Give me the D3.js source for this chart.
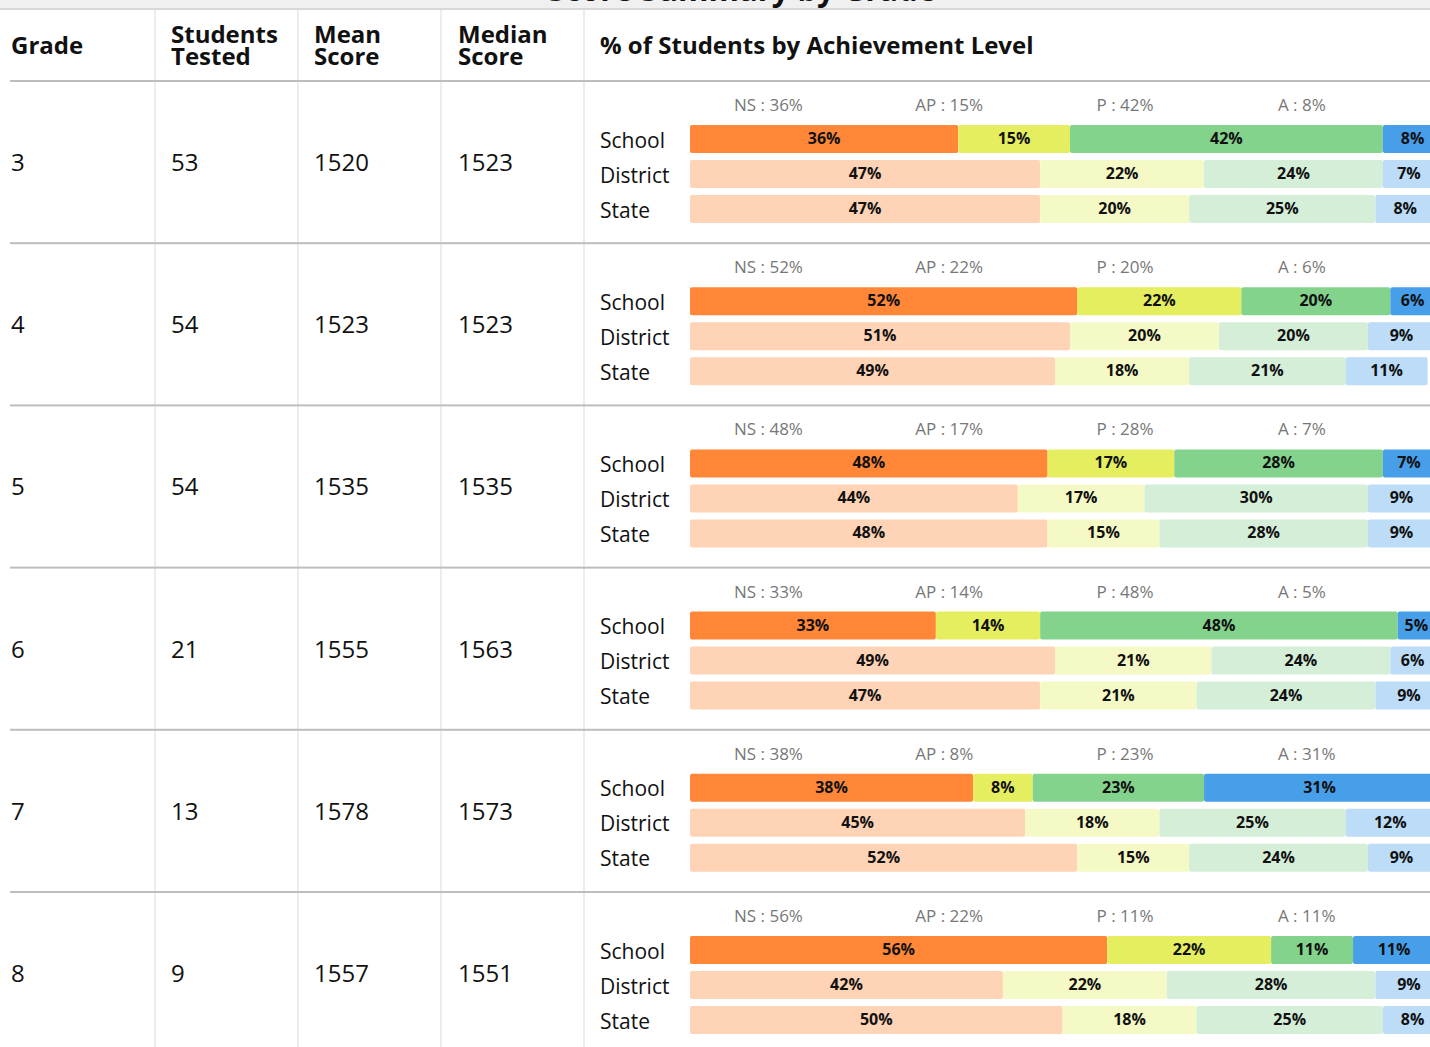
<!DOCTYPE html>
<html>
<head>
<meta charset="utf-8">
<script src="https://cdn.jsdelivr.net/npm/d3@7"></script>
<style>
  html, body { margin: 0; padding: 0; background: #fff; overflow: hidden; }
  svg { display: block; font-family: "Open Sans", sans-serif; }
</style>
</head>
<body>
<svg id="chart" width="1430" height="1047"></svg>
<script>
// ---- data ----
const title = "Score Summary by Grade";
const columns = ["Grade", "Students\nTested", "Mean\nScore", "Median\nScore", "% of Students by Achievement Level"];
const grades = ["3", "4", "5", "6", "7", "8"];
const studentsTested = [53, 54, 54, 21, 13, 9];
const meanScore = [1520, 1523, 1535, 1555, 1578, 1557];
const medianScore = [1523, 1523, 1535, 1563, 1573, 1551];
const levels = ["NS", "AP", "P", "A"];
const groups = ["School", "District", "State"];
const schoolPct = [[36,15,42,8],[52,22,20,6],[48,17,28,7],[33,14,48,5],[38,8,23,31],[56,22,11,11]];
const districtPct = [[47,22,24,7],[51,20,20,9],[44,17,30,9],[49,21,24,6],[45,18,25,12],[42,22,28,9]];
const statePct = [[47,20,25,8],[49,18,21,11],[48,15,28,9],[47,21,24,9],[52,15,24,9],[50,18,25,8]];

const strongColors = ["#FF8737", "#E5EE5E", "#84D38D", "#479FEA"];
const lightColors  = ["#FFD3B5", "#F5F9C5", "#D4EED7", "#BCDCF8"];

const svg = d3.select("#chart");
const W = 1430;

// top band with cut-off title
svg.append("rect").attr("x", 0).attr("y", 0).attr("width", W).attr("height", 8).attr("fill", "#F0F0F0");
svg.append("text").attr("x", 742).attr("y", 1).attr("text-anchor", "middle")
  .attr("font-size", 31).attr("font-weight", 700).attr("fill", "#111").text(title);
svg.append("rect").attr("x", 0).attr("y", 8).attr("width", W).attr("height", 2).attr("fill", "#D8D8D8");

// layout scales
const headerTop = 10, headerBottom = 81, rowH = 162.2;
const rowY = d3.scaleBand().domain(grades).range([headerBottom, headerBottom + rowH * grades.length]).paddingInner(0).paddingOuter(0);
const colX = [11, 171, 314, 458, 600];
const sepX = [155, 298, 441, 584];

const x = d3.scaleLinear().domain([0, 100]).range([690, 1435]);
const groupY = d3.scaleBand().domain(groups).range([44, 142]).paddingInner(0.2).paddingOuter(0);
const levelLabelX = d3.scalePoint().domain(levels).range([734, 734 + 181.3 * 3]);

// vertical separators
sepX.forEach(sx => {
  svg.append("rect").attr("x", sx - 1).attr("y", headerTop).attr("width", 2).attr("height", 1047 - headerTop).attr("fill", "#ECECEC");
});

// header
columns.forEach((c, i) => {
  const lines = c.split("\n");
  const t = svg.append("text").attr("x", colX[i]).attr("font-size", 24).attr("font-weight", 700).attr("fill", "#111");
  if (lines.length === 1) {
    t.attr("y", 54).text(c);
  } else {
    lines.forEach((l, j) => t.append("tspan").attr("x", colX[i]).attr("y", 43 + j * 22).text(l));
  }
});
svg.append("rect").attr("x", 10).attr("y", headerBottom - 1).attr("width", W - 10).attr("height", 2).attr("fill", "#BDBDBD");

// rows
grades.forEach((g, r) => {
  const top = rowY(g);
  const G = svg.append("g").attr("transform", `translate(0,${top})`);
  if (r > 0) {
    G.append("rect").attr("x", 10).attr("y", -1).attr("width", W - 10).attr("height", 2).attr("fill", "#BDBDBD");
  }
  const vals = [g, studentsTested[r], meanScore[r], medianScore[r]];
  vals.forEach((v, i) => {
    G.append("text").attr("x", colX[i]).attr("y", 90).attr("font-size", 24).attr("fill", "#111").text(v);
  });
  // level labels
  levels.forEach((lv, k) => {
    G.append("text").attr("x", levelLabelX(lv)).attr("y", 30).attr("font-size", 17).attr("fill", "#777")
      .text(`${lv} : ${schoolPct[r][k]}%`);
  });
  const data = [schoolPct[r], districtPct[r], statePct[r]];
  groups.forEach((grp, gi) => {
    const y0 = groupY(grp), bh = groupY.bandwidth();
    G.append("text").attr("x", 600).attr("y", y0 + bh / 2 + 8.5).attr("font-size", 21).attr("fill", "#111").text(grp);
    let cum = 0;
    data[gi].forEach((v, k) => {
      const xs = x(cum), xe = x(cum + v);
      cum += v;
      const col = gi === 0 ? strongColors[k] : lightColors[k];
      G.append("rect").attr("x", xs).attr("y", y0).attr("width", xe - xs).attr("height", bh)
        .attr("rx", 2).attr("fill", col);
      G.append("text").attr("x", (xs + xe) / 2).attr("y", y0 + bh / 2 + 5).attr("text-anchor", "middle")
        .attr("font-size", 16).attr("font-weight", 700).attr("fill", "#111").text(v + "%");
    });
  });
});
</script>
</body>
</html>
